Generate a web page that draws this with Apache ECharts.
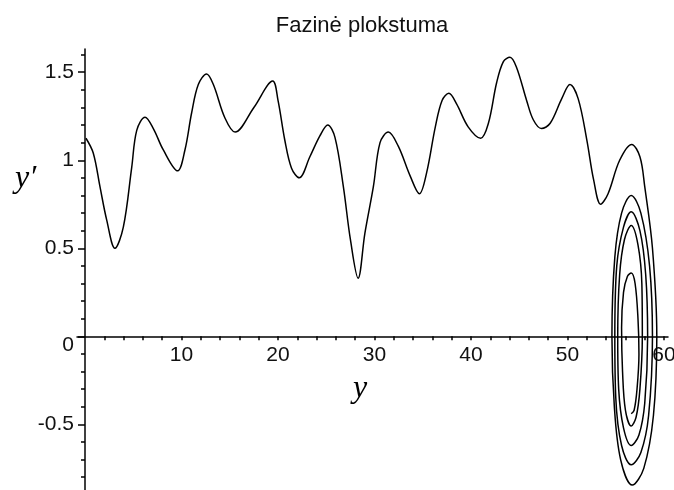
<!DOCTYPE html>
<html>
<head>
<meta charset="utf-8">
<script src="https://cdn.jsdelivr.net/npm/echarts@6/dist/echarts.min.js"></script>
<style>
  html, body { margin: 0; padding: 0; background: #fff; }
  #chart { width: 674px; height: 490px; }
</style>
</head>
<body>
<div id="chart"></div>
<script>
// Phase-plane trajectory: position y (horizontal) against velocity y' (vertical)
const titleText = 'Fazinė plokstuma';
const xName = 'y';
const yName = 'y\u2032';

// travelling part of the trajectory
const travelY = [0.1, 0.86, 1.55, 2.25, 3.1, 3.97, 4.84, 5.36, 6.22, 7.08, 8.1, 9.6, 10.36, 11.05, 11.74, 12.6, 13.3, 14.5, 15.55, 17.5, 19.45, 20.0, 20.7, 21.4, 22.2, 23.3, 24.35, 25.15, 25.9, 26.77, 27.5, 28.3, 29.0, 29.88, 30.57, 31.43, 32.46, 33.7, 34.65, 35.4, 36.3, 37.0, 37.7, 38.5, 39.7, 41.0, 41.8, 42.65, 43.35, 44.03, 44.7, 45.76, 46.45, 47.3, 48.2, 49.4, 50.25, 51.1, 52.0, 52.7, 53.43, 54.2, 55.4, 56.65, 57.5, 58.0];
const travelDY = [1.125, 1.04, 0.85, 0.66, 0.50, 0.62, 0.96, 1.17, 1.244, 1.18, 1.06, 0.94, 1.06, 1.27, 1.43, 1.49, 1.43, 1.24, 1.16, 1.30, 1.45, 1.34, 1.115, 0.955, 0.90, 1.02, 1.14, 1.20, 1.13, 0.85, 0.55, 0.33, 0.585, 0.85, 1.10, 1.16, 1.08, 0.91, 0.81, 0.93, 1.19, 1.34, 1.38, 1.32, 1.19, 1.125, 1.21, 1.44, 1.56, 1.585, 1.53, 1.34, 1.23, 1.18, 1.21, 1.35, 1.43, 1.35, 1.115, 0.89, 0.75, 0.81, 1.00, 1.09, 1.02, 0.85];

// oscillation trapped in the well near y = 56.6
const wellY = [58.8, 59.25, 58.9, 57.9, 56.7, 55.5, 54.85, 54.6, 54.9, 55.6, 56.6, 57.6, 58.5, 58.8, 58.4, 57.6, 56.6, 55.6, 55.0, 54.9, 55.1, 55.8, 56.6, 57.5, 58.1, 58.3, 58.0, 57.4, 56.6, 55.8, 55.3, 55.2, 55.4, 55.9, 56.6, 57.3, 57.7, 57.75, 57.5, 57.1, 56.6, 56.0, 55.7, 55.6, 55.8, 56.2, 56.6, 57.0, 57.3, 57.4, 57.2, 56.9, 56.6];
const wellDY = [0.5, 0, -0.45, -0.75, -0.845, -0.7, -0.4, 0, 0.45, 0.7, 0.80, 0.7, 0.4, 0, -0.45, -0.66, -0.73, -0.62, -0.35, 0, 0.4, 0.62, 0.707, 0.6, 0.35, 0, -0.38, -0.56, -0.62, -0.52, -0.3, 0, 0.35, 0.55, 0.63, 0.52, 0.3, 0, -0.3, -0.46, -0.51, -0.42, -0.2, 0.05, 0.25, 0.34, 0.36, 0.3, 0.1, -0.1, -0.3, -0.42, -0.44];

// axis ticks and labels
const xLabelValues = [10, 20, 30, 40, 50, 60];
const xTickValues = [2, 4, 6, 8, 10, 12, 14, 16, 18, 20, 22, 24, 26, 28, 30, 32, 34, 36, 38, 40, 42, 44, 46, 48, 50, 52, 54, 56, 58, 60];
const yLabelValues = [-0.5, 0, 0.5, 1, 1.5];
const yMinorTickValues = [-0.8, -0.7, -0.6, -0.4, -0.3, -0.2, -0.1, 0.1, 0.2, 0.3, 0.4, 0.6, 0.7, 0.8, 0.9, 1.1, 1.2, 1.3, 1.4, 1.6];

const xMin = -0.83, xMax = 60.41;
const yMin = -0.873, yMax = 1.632;

const points = [];
travelY.forEach((v, i) => points.push([v, travelDY[i]]));
wellY.forEach((v, i) => points.push([v, wellDY[i]]));

const labelFont = { fontFamily: 'Liberation Sans, Arial, sans-serif', fontSize: 21, color: '#111' };

const chart = echarts.init(document.getElementById('chart'));
chart.setOption({
  animation: false,
  backgroundColor: '#fff',
  title: [
    { text: titleText, left: 357, top: 10, textAlign: 'center',
      textStyle: { fontFamily: 'Liberation Sans, Arial, sans-serif', fontSize: 22, fontWeight: 'normal', color: '#111' } },
    { text: yName, left: 10, top: 158,
      textStyle: { fontFamily: 'Liberation Serif, Times New Roman, serif', fontStyle: 'italic', fontSize: 32, fontWeight: 'normal', color: '#000' } },
    { text: xName, left: 355, top: 368, textAlign: 'center',
      textStyle: { fontFamily: 'Liberation Serif, Times New Roman, serif', fontStyle: 'italic', fontSize: 32, fontWeight: 'normal', color: '#000' } }
  ],
  grid: { left: 77, right: 6, top: 49, bottom: 0, containLabel: false, outerBoundsMode: 'none' },
  xAxis: {
    type: 'value', min: xMin, max: xMax,
    axisLine: { onZero: true, lineStyle: { color: '#000', width: 1.5 } },
    axisTick: { customValues: xTickValues, length: 4, lineStyle: { color: '#000', width: 1.5 } },
    // labels sit just under the zero line rather than at the grid edge
    axisLabel: { customValues: xLabelValues, margin: -145, ...labelFont },
    splitLine: { show: false }
  },
  yAxis: [
    {
      type: 'value', min: yMin, max: yMax, position: 'left', offset: -8,
      axisLine: { show: true, onZero: false, lineStyle: { color: '#000', width: 1.5 } },
      axisTick: { customValues: yLabelValues, length: 7, lineStyle: { color: '#000', width: 1.5 } },
      axisLabel: {
        customValues: yLabelValues, margin: 11, ...labelFont,
        formatter: v => (v === 0 ? '{z|0}' : String(v)),
        rich: { z: { ...labelFont, padding: [18, 0, 0, 0] } }
      },
      splitLine: { show: false }
    },
    {
      type: 'value', min: yMin, max: yMax, position: 'left', offset: -8,
      axisLine: { show: false, onZero: false },
      axisTick: { customValues: yMinorTickValues, length: 4, lineStyle: { color: '#000', width: 1.5 } },
      axisLabel: { show: false },
      splitLine: { show: false }
    }
  ],
  series: [{
    type: 'line',
    data: points,
    smooth: 0.35,
    symbol: 'none',
    lineStyle: { color: '#000', width: 1.5 }
  }]
});
</script>
</body>
</html>
